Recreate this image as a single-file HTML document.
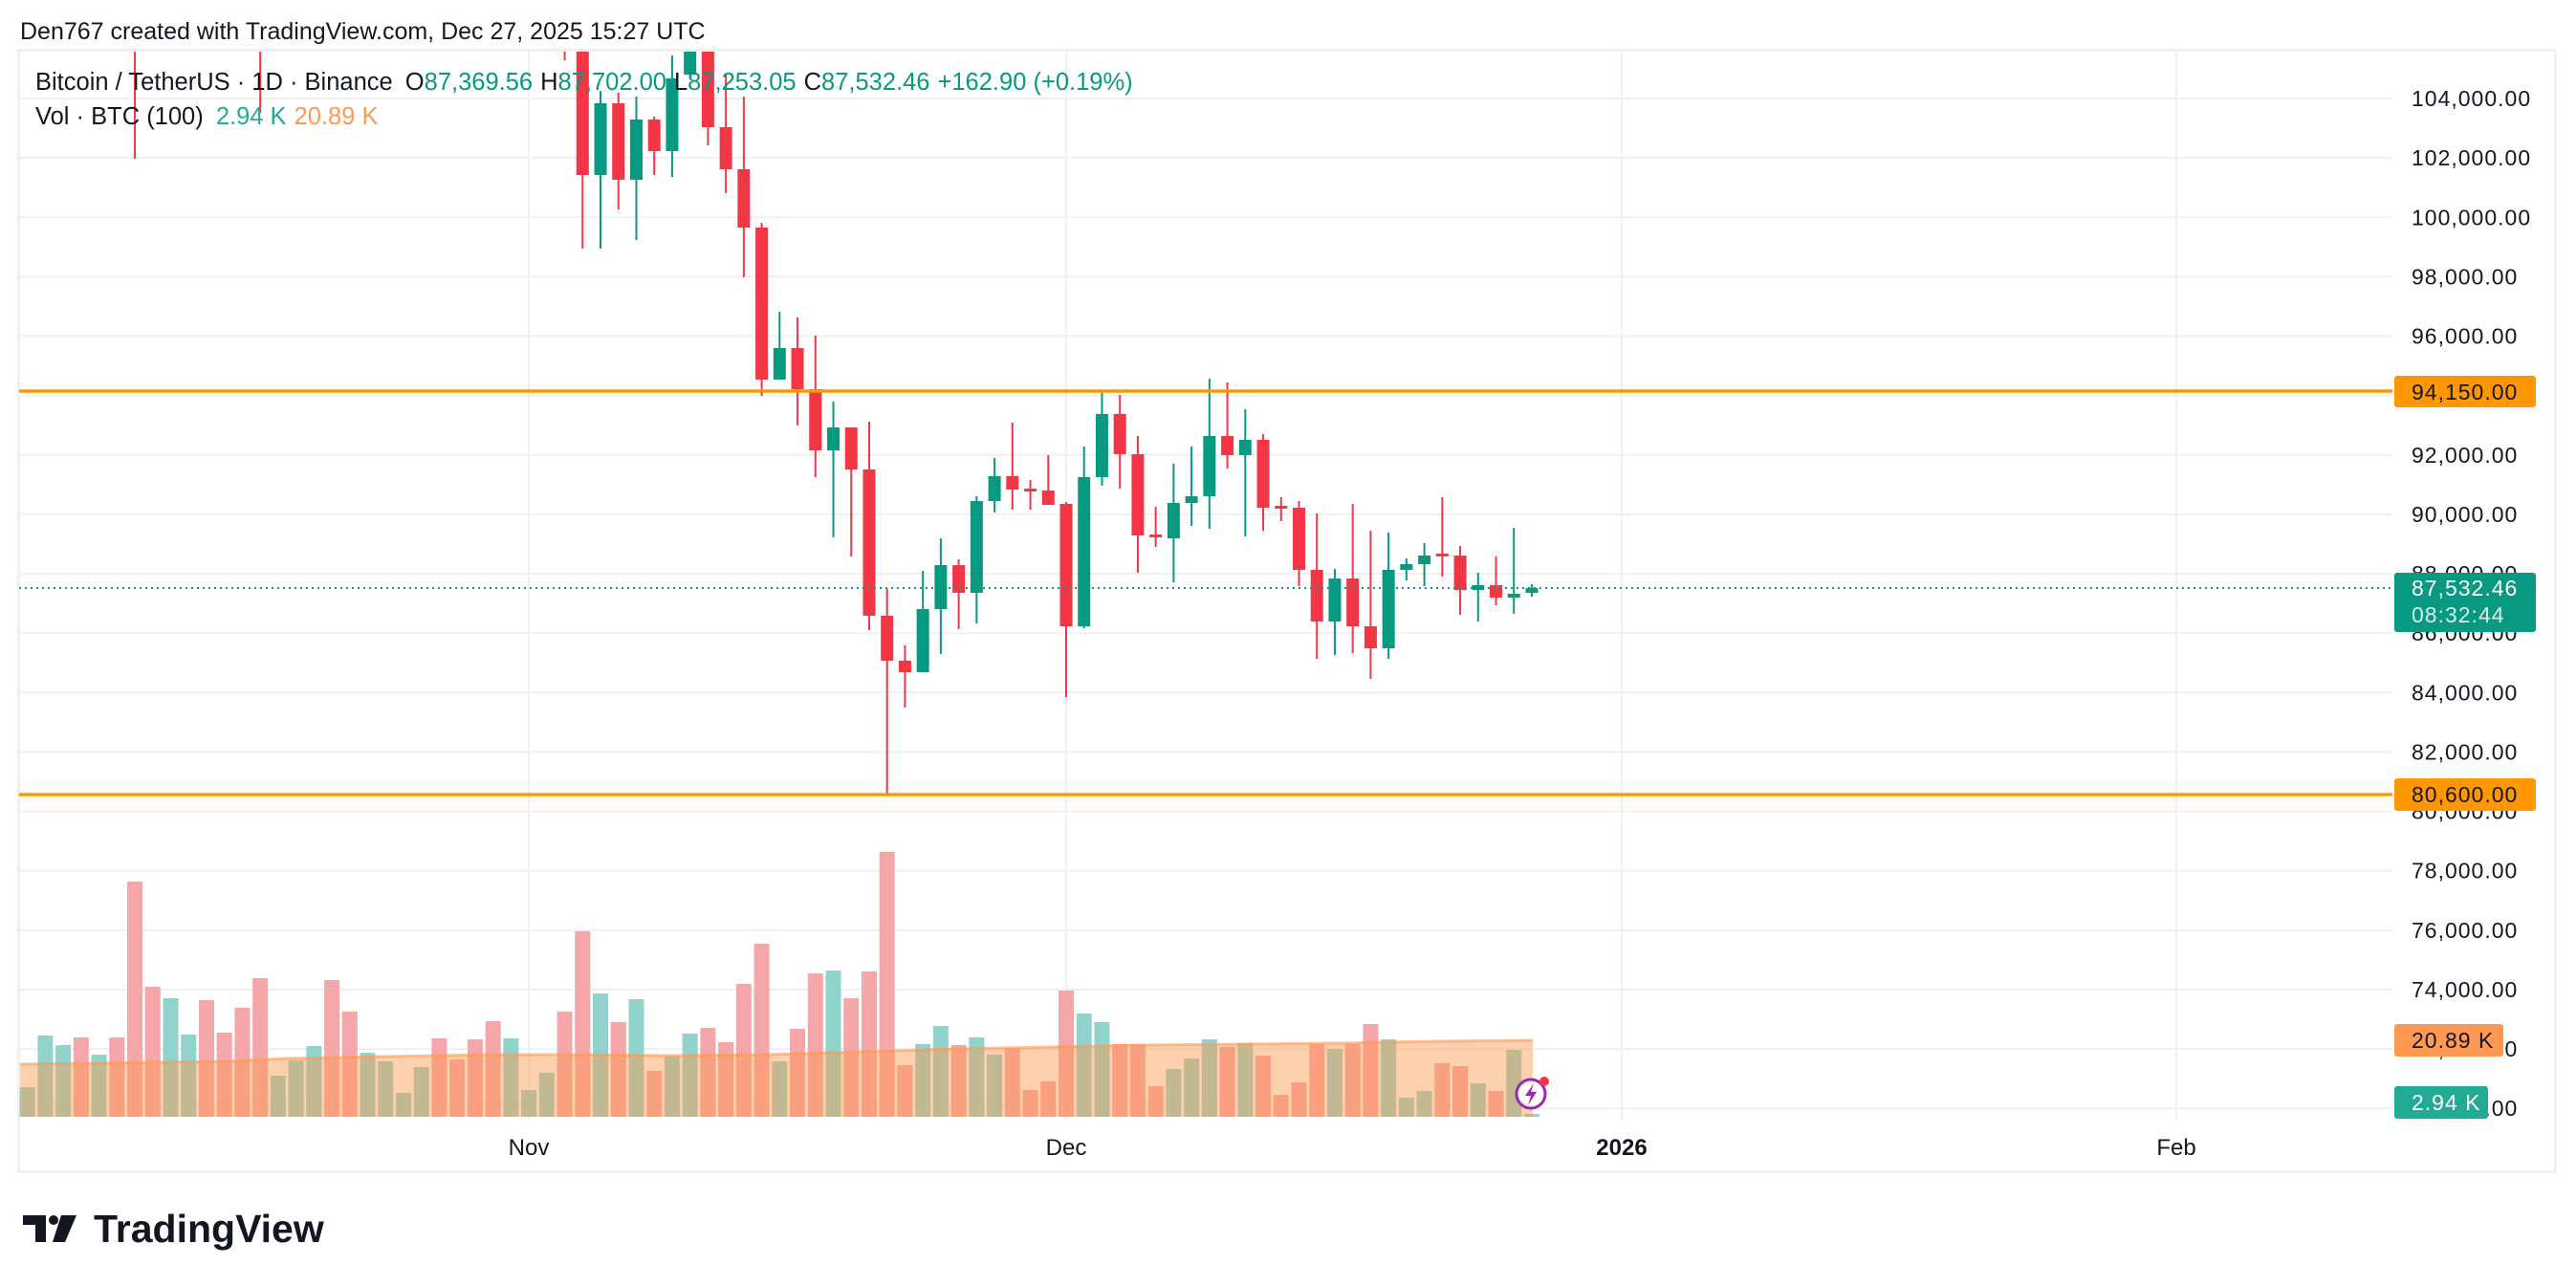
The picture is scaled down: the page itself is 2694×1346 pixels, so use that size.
<!DOCTYPE html>
<html><head><meta charset="utf-8"><style>
html,body{margin:0;padding:0;background:#fff;}
body{width:2694px;height:1346px;overflow:hidden;position:relative;font-family:"Liberation Sans",sans-serif;}
svg{position:absolute;left:0;top:0;}
</style></head><body>
<svg id="s" width="2694" height="1346" viewBox="0 0 2694 1346" xmlns="http://www.w3.org/2000/svg"></svg>
<script>
const s=document.getElementById('s');
let h='';
const G='#089981',R='#f23645';
h+='<rect x="19.5" y="52.5" width="2653" height="1173" fill="none" stroke="#f0f0f0" stroke-width="3"/>';
[553,1115,1696,2276].forEach(x=>{h+=`<line x1="${x}" y1="54" x2="${x}" y2="1172" stroke="#f0f0f0" stroke-width="2"/>`;});
const yp=p=>409+(94150-p)*0.031065;
for(let p=104000;p>=70000;p-=2000){const y=yp(p);
 h+=`<line x1="21" y1="${y}" x2="2502" y2="${y}" stroke="#f0f0f0" stroke-width="2"/>`;
 h+=`<text x="2522" y="${y+8}" font-size="23" letter-spacing="1" fill="#131722">${p.toLocaleString('en-US')}.00</text>`;}
const vol=[[-58,'g',1137],[-57,'g',1083],[-56,'g',1093],[-55,'r',1085],[-54,'g',1103],[-53,'r',1085],[-52,'r',922],[-51,'r',1032],[-50,'g',1044],[-49,'g',1082],[-48,'r',1046],[-47,'r',1080],[-46,'r',1054],[-45,'r',1023],[-44,'g',1125],[-43,'g',1109],[-42,'g',1094],[-41,'r',1025],[-40,'r',1058],[-39,'g',1101],[-38,'g',1110],[-37,'g',1143],[-36,'g',1116],[-35,'r',1086],[-34,'r',1108],[-33,'r',1087],[-32,'r',1068],[-31,'g',1086],[-30,'g',1140],[-29,'g',1122],[-28,'r',1058],[-27,'r',974],[-26,'g',1039],[-25,'r',1069],[-24,'g',1045],[-23,'r',1120],[-22,'g',1105],[-21,'g',1081],[-20,'r',1075],[-19,'r',1090],[-18,'r',1029],[-17,'r',987],[-16,'g',1110],[-15,'r',1076],[-14,'r',1018],[-13,'g',1015],[-12,'r',1044],[-11,'r',1016],[-10,'r',891],[-9,'r',1114],[-8,'g',1092],[-7,'g',1073],[-6,'r',1093],[-5,'g',1085],[-4,'g',1103],[-3,'r',1096],[-2,'r',1140],[-1,'r',1131],[0,'r',1036],[1,'g',1060],[2,'g',1069],[3,'r',1092],[4,'r',1092],[5,'r',1136],[6,'g',1118],[7,'g',1107],[8,'g',1087],[9,'r',1095],[10,'g',1091],[11,'r',1104],[12,'r',1145],[13,'r',1132],[14,'r',1092],[15,'g',1097],[16,'r',1092],[17,'r',1071],[18,'g',1087],[19,'g',1148],[20,'g',1141],[21,'r',1112],[22,'r',1115],[23,'g',1133],[24,'r',1141],[25,'g',1098],[26,'g',1165]];
const X=d=>1115+18.73*d;
vol.forEach(v=>{const x=X(v[0]);h+=`<rect x="${x-8}" y="${v[2]}" width="16" height="${1168-v[2]}" fill="${v[1]=='g'?'#92d2cc':'#f5a6a8'}"/>`;});
const ma=[[21,1113],[100,1112],[240,1110],[300,1107],[400,1105],[520,1103],[600,1103],[700,1104],[800,1103],[900,1100],[1000,1097],[1100,1095],[1200,1093],[1300,1092],[1400,1091],[1500,1089],[1603,1088]];
h+=`<polygon points="21,1168 ${ma.map(p=>p.join(',')).join(' ')} 1603,1168" fill="rgba(250,153,79,0.46)"/>`;
h+=`<polyline points="${ma.map(p=>p.join(',')).join(' ')}" fill="none" stroke="rgba(255,152,80,0.6)" stroke-width="3"/>`;
h+='<defs><clipPath id="c"><rect x="20" y="54" width="2482" height="1118"/></clipPath></defs><g clip-path="url(#c)">';
const cs=[[-52,'r',40,166,0,0],[-45,'r',40,118,0,0],[-28,'r',40,63,0,0],
[-27,'r',40,260,40,183],[-26,'g',95,260,108,183],[-25,'r',97,219,108,188],[-24,'g',101,251,125,188],[-23,'r',122,183,125,158],[-22,'g',58,185,82,158],[-21,'g',40,82,40,78],[-20,'r',40,152,40,133],[-19,'r',78,202,133,177],[-18,'r',101,290,177,238],[-17,'r',233,414,238,397],[-16,'g',326,397,364,397],[-15,'r',332,445,364,407],[-14,'r',351,499,407,471],[-13,'g',420,562,447,471],[-12,'r',447,582,447,491],[-11,'r',441,659,491,644],[-10,'r',616,830,644,691],[-9,'r',675,740,691,703],[-8,'g',597,703,637,703],[-7,'g',563,684,591,637],[-6,'r',585,658,591,620],[-5,'g',519,652,524,620],[-4,'g',479,536,498,524],[-3,'r',442,533,498,512],[-2,'r',502,533,511,514],[-1,'r',476,528,513,528],[0,'r',525,729,527,655],[1,'g',467,657,499,655],[2,'g',410,508,433,499],[3,'r',413,511,433,475],[4,'r',456,599,475,560],[5,'r',530,572,559,562],[6,'g',485,609,526,563],[7,'g',467,550,519,526],[8,'g',396,553,456,519],[9,'r',400,490,456,476],[10,'g',428,561,460,476],[11,'r',454,555,460,531],[12,'r',520,545,529,531],[13,'r',524,613,531,596],[14,'r',537,689,596,650],[15,'g',595,685,605,650],[16,'r',527,683,605,655],[17,'r',555,710,655,678],[18,'g',557,689,596,678],[19,'g',584,607,590,596],[20,'g',568,613,581,590],[21,'r',520,603,579,581],[22,'r',571,643,581,617],[23,'g',599,650,612,617],[24,'r',582,633,612,625],[25,'g',552,642,621,625],[26,'g',611,624,615,620]];
cs.forEach(c=>{const x=X(c[0]);const col=c[1]=='g'?G:R;
 h+=`<rect x="${x-1}" y="${c[2]}" width="2" height="${c[3]-c[2]}" fill="${col}"/>`;
 if(c[5]>c[4]) h+=`<rect x="${x-6.5}" y="${c[4]}" width="13" height="${Math.max(3,c[5]-c[4])}" fill="${col}"/>`;});
h+='</g>';
h+=`<line x1="20" y1="409" x2="2502" y2="409" stroke="#ff9800" stroke-width="3.5"/>`;
h+=`<line x1="20" y1="831" x2="2502" y2="831" stroke="#ff9800" stroke-width="3.5"/>`;
h+=`<line x1="20" y1="615" x2="2502" y2="615" stroke="${G}" stroke-width="2" stroke-dasharray="2,4"/>`;
h+=`<rect x="2504" y="393" width="148" height="33" rx="3" fill="#ff9800"/><text x="2522" y="418" font-size="23" letter-spacing="1" fill="#131722">94,150.00</text>`;
h+=`<rect x="2504" y="814" width="148" height="34" rx="3" fill="#ff9800"/><text x="2522" y="839" font-size="23" letter-spacing="1" fill="#131722">80,600.00</text>`;
h+=`<rect x="2504" y="599" width="148" height="62" rx="3" fill="${G}"/><text x="2522" y="623" font-size="23" letter-spacing="1" fill="#fff">87,532.46</text><text x="2522" y="651" font-size="23" letter-spacing="1" fill="#d8efe9">08:32:44</text>`;
h+=`<rect x="2504" y="1071" width="114" height="34" rx="3" fill="#ff9850"/><text x="2522" y="1096" font-size="23" letter-spacing="1" fill="#131722">20.89 K</text>`;
h+=`<rect x="2504" y="1136" width="98" height="34" rx="3" fill="#22ab94"/><text x="2522" y="1161" font-size="23" letter-spacing="1" fill="#fff">2.94 K</text>`;
h+=`<circle cx="1601" cy="1144" r="15" fill="#fff" stroke="#9c27b0" stroke-width="3"/><path d="M1604 1133 L1595 1146 L1601 1146 L1598 1156 L1607 1142 L1601 1142 Z" fill="#9c27b0"/><circle cx="1615" cy="1131" r="5" fill="#f23645"/>`;
[['Nov',553,''],['Dec',1115,''],['2026',1696,'bold'],['Feb',2276,'']].forEach(t=>{h+=`<text x="${t[1]}" y="1208" font-size="24" text-anchor="middle" font-weight="${t[2]||'normal'}" fill="#131722">${t[0]}</text>`;});
h+=`<text x="21" y="41" font-size="25" fill="#131722">Den767 created with TradingView.com, Dec 27, 2025 15:27 UTC</text>`;
h+=`<text x="37" y="94" font-size="25.5" fill="#131722">Bitcoin / TetherUS · 1D · Binance <tspan dx="6">O</tspan><tspan fill="${G}">87,369.56</tspan><tspan dx="8">H</tspan><tspan fill="${G}">87,702.00</tspan><tspan dx="8">L</tspan><tspan fill="${G}">87,253.05</tspan><tspan dx="8">C</tspan><tspan fill="${G}">87,532.46</tspan><tspan dx="8" fill="${G}">+162.90 (+0.19%)</tspan></text>`;
h+=`<text x="37" y="130" font-size="25.5" fill="#131722">Vol · BTC (100) <tspan dx="6" fill="#22ab94">2.94 K</tspan><tspan dx="8" fill="#ff9850">20.89 K</tspan></text>`;
h+=`<path d="M24 1271 H48 V1299 H37 V1281 H24 Z" fill="#131722"/><circle cx="56" cy="1276" r="5" fill="#131722"/><path d="M64 1271 H80 L68 1299 H55 Z" fill="#131722"/>`;
h+=`<text x="98" y="1299" font-size="41" font-weight="bold" fill="#131722">TradingView</text>`;
s.innerHTML=h;
</script>
</body></html>
